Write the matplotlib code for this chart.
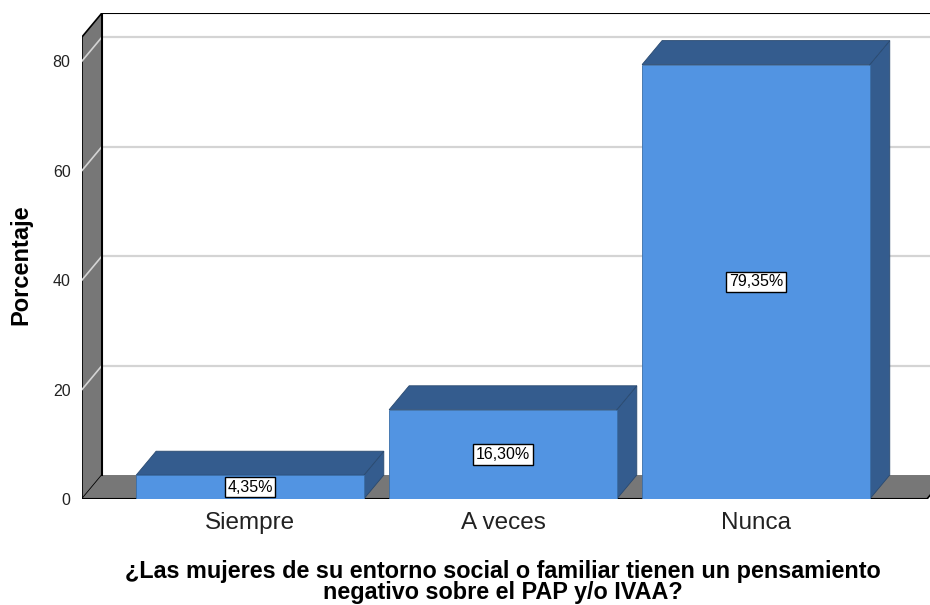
import matplotlib
matplotlib.use("Agg")
import matplotlib.pyplot as plt
from matplotlib.patches import Polygon, Rectangle

plt.rcParams['font.family'] = ['Liberation Sans', 'DejaVu Sans']

categorias = ['Siempre', 'A veces', 'Nunca']
porcentajes = [4.35, 16.30, 79.35]
etiquetas = ['4,35%', '16,30%', '79,35%']
yticks = [0, 20, 40, 60, 80]
titulo_x = ('¿Las mujeres de su entorno social o familiar tienen un pensamiento\n'
            'negativo sobre el PAP y/o IVAA?')

front_c = '#5294e2'
dark_c = '#345c8e'
wall_c = '#777777'
grid_c = '#d4d4d4'

# geometry (data units)
dx, dy = 0.079, 4.38       # depth offset
bw = 0.90                  # bar width
x0, x1 = -0.664, 2.676     # floor front left / right
ytop = 84.4

fig = plt.figure(figsize=(9.3, 6.05), dpi=100)
ax = fig.add_axes([82 / 930, 106 / 605, 848 / 930, 486 / 605])
ax.set_xlim(-0.664, 2.688)
ax.set_ylim(0, 88.77)
ax.axis('off')

# back wall gridlines
for t in yticks[1:]:
    ax.plot([x0 + dx, x1 + dx + 1], [t + dy, t + dy], color=grid_c, lw=1.6, zorder=1)

# left wall
ax.add_patch(Polygon([(x0, 0), (x0, ytop), (x0 + dx, ytop + dy), (x0 + dx, dy)],
                     closed=True, fc=wall_c, ec='black', lw=1.2, zorder=2))
for t in yticks[1:]:
    ax.plot([x0, x0 + dx], [t, t + dy], color=grid_c, lw=1.2, zorder=3)

# floor
ax.add_patch(Polygon([(x0, 0), (x1, 0), (x1 + dx, dy), (x0 + dx, dy)],
                     closed=True, fc=wall_c, ec='none', zorder=2))
ax.plot([x0, x1], [0, 0], color='black', lw=1.5, zorder=3)
ax.plot([x1, x1 + dx], [0, dy], color='black', lw=1.2, zorder=3)

# top border of back wall and left edge
ax.plot([x0 + dx, 3.0], [ytop + dy, ytop + dy], color='black', lw=1.5, zorder=3)
ax.plot([x0 + dx, x0 + dx], [dy, ytop + dy], color='black', lw=1.5, zorder=3)

# bars
for i, (v, lab) in enumerate(zip(porcentajes, etiquetas)):
    l, r = i - bw / 2, i + bw / 2
    ax.add_patch(Polygon([(r, 0), (r, v), (r + dx, v + dy), (r + dx, dy)],
                         closed=True, fc=dark_c, ec='#2a4a70', lw=0.6, zorder=4))
    ax.add_patch(Polygon([(l, v), (r, v), (r + dx, v + dy), (l + dx, v + dy)],
                         closed=True, fc=dark_c, ec='#2a4a70', lw=0.6, zorder=4))
    ax.add_patch(Rectangle((l, 0), bw, v, fc=front_c, ec='#3a6ea8', lw=0.6, zorder=5))
    ax.text(i, v / 2, lab, ha='center', va='center', fontsize=11.5, zorder=6,
            bbox=dict(boxstyle='square,pad=0.17', fc='white', ec='black', lw=1))

# y ticks
for t in yticks:
    ax.text(x0 - 0.045, t - 0.3, str(t), ha='right', va='center', fontsize=11.5,
            color='#222222')

# category labels
for i, c in enumerate(categorias):
    ax.text(i, -4.3, c, ha='center', va='center', fontsize=17.5, color='#222222')

ax.text(x0 - 0.24, 42.8, 'Porcentaje', rotation=90, ha='center', va='center',
        fontsize=17, fontweight='bold')
ax.text(1.0, -15.2, titulo_x, ha='center', va='center', fontsize=16.8,
        fontweight='bold', linespacing=0.88)

fig.savefig('out.png', dpi=100)
